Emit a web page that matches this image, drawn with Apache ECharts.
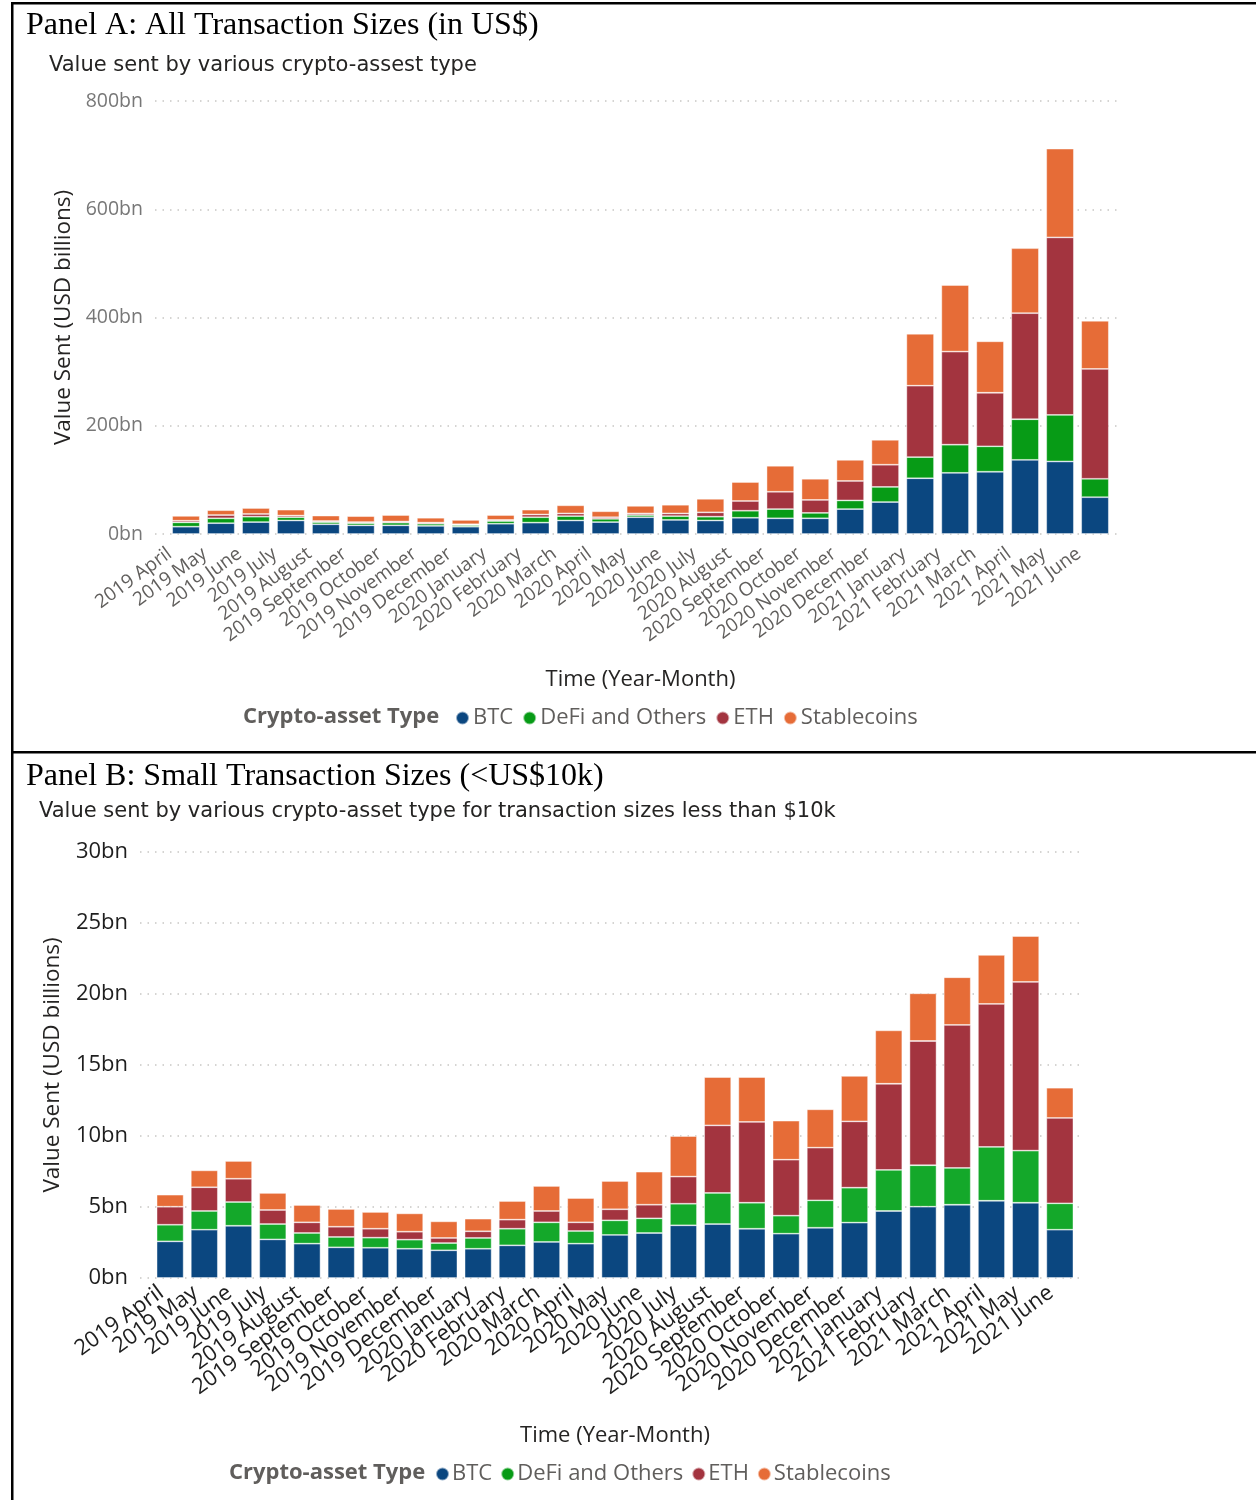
<!DOCTYPE html>
<html><head><meta charset="utf-8">
<script src="https://cdn.jsdelivr.net/npm/echarts@6/dist/echarts.min.js"></script>
<style>html,body{margin:0;padding:0;background:#fff}#c{width:1256px;height:1500px}</style>
</head><body><div id="c"></div>
<script>
const months = ['2019 April','2019 May','2019 June','2019 July','2019 August','2019 September','2019 October','2019 November','2019 December','2020 January','2020 February','2020 March','2020 April','2020 May','2020 June','2020 July','2020 August','2020 September','2020 October','2020 November','2020 December','2021 January','2021 February','2021 March','2021 April','2021 May','2021 June'];
const seriesNames = ['BTC','DeFi and Others','ETH','Stablecoins'];

// Panel A: all transaction sizes (USD billions)
const allBTC    = [13.5,20,22,25,18,16,16,15,13.5,19,21,25,22,31,26,25,30,29,29,46,59,103,113,115,137,134,68];
const allDeFi   = [8,9,10,6,4,4,5,4,3,5,10,8,6,4,7,7,13,17,10,16,28,39,52,47,75,86,34];
const allETH    = [3,6,5,3,2,2,2,2,1.5,2,5,5,3,3,5,8,18,32,24,36,41,132,172,99,196,328,203];
const allStable = [9,9,11,11,10,11,12,9,8,9,9,15,11,14,16,25,35,48,39,39,46,96,123,95,120,164,89];

// Panel B: small transactions < $10k (USD billions)
const smallBTC    = [2.58,3.40,3.68,2.72,2.42,2.16,2.13,2.06,1.95,2.06,2.30,2.54,2.42,3.03,3.17,3.71,3.80,3.47,3.12,3.54,3.90,4.72,5.02,5.16,5.44,5.30,3.40];
const smallDeFi   = [1.17,1.32,1.67,1.08,0.75,0.73,0.71,0.64,0.51,0.76,1.17,1.38,0.89,1.03,1.03,1.52,2.19,1.83,1.27,1.93,2.46,2.89,2.92,2.59,3.79,3.67,1.86];
const smallETH    = [1.27,1.67,1.64,0.99,0.75,0.72,0.63,0.56,0.36,0.47,0.64,0.80,0.61,0.78,0.96,1.91,4.76,5.69,3.94,3.71,4.67,6.07,8.75,10.07,10.07,11.88,6.01];
const smallStable = [0.85,1.19,1.25,1.20,1.22,1.25,1.18,1.29,1.17,0.89,1.31,1.76,1.71,1.99,2.33,2.86,3.40,3.16,2.75,2.70,3.20,3.76,3.36,3.36,3.45,3.23,2.13];

const colorsA = ['#0B4780','#079B16','#A3343F','#E66C37'];
const colorsB = ['#0B4780','#14A82A','#A3343F','#E66C37'];

const chart = echarts.init(document.getElementById('c'), null, {renderer:'canvas'});

function bars(name, data, color, xi, yi, stack){
  return {name, type:'bar', stack, xAxisIndex:xi, yAxisIndex:yi, data, barCategoryGap:'21%',
    itemStyle:{color, borderColor:'rgba(255,255,255,0.55)', borderWidth:0.8}, emphasis:{disabled:true}};
}
const gridLine = {show:true, lineStyle:{type:[1.5,6], color:'#C8C6C4', width:1.5}};
const F = 'Open Sans';

const option = {
  animation:false,
  textStyle:{fontFamily:F},
  grid:[
    {left:155, top:101, width:967, height:433},   // A axis grid
    {left:168.5, top:101, width:944, height:433}, // A bars
    {left:140, top:852, width:943, height:426},   // B axis grid
    {left:153, top:852, width:924, height:426}    // B bars
  ],
  xAxis:[
    {type:'value', gridIndex:0, min:0, max:1, show:false},
    {type:'category', gridIndex:1, data:months, axisLine:{show:false}, axisTick:{show:false},
      axisLabel:{rotate:36, interval:0, fontSize:19, color:'#605E5C', margin:6, padding:[0,20,0,0], fontFamily:F},
      name:'Time (Year-Month)', nameLocation:'middle', nameGap:135,
      nameTextStyle:{fontSize:22, color:'#252423', fontFamily:F}},
    {type:'value', gridIndex:2, min:0, max:1, show:false},
    {type:'category', gridIndex:3, data:months, axisLine:{show:false}, axisTick:{show:false},
      axisLabel:{rotate:36, interval:0, fontSize:22, color:'#1E1E1E', margin:6, padding:[0,11,0,0], fontFamily:F},
      name:'Time (Year-Month)', nameLocation:'middle', nameGap:147,
      nameTextStyle:{fontSize:22, color:'#252423', fontFamily:F}}
  ],
  yAxis:[
    {type:'value', gridIndex:0, min:0, max:800, interval:200, axisLine:{show:false}, axisTick:{show:false},
      axisLabel:{formatter:'{value}bn', fontSize:19.5, color:'#777777', margin:12, fontFamily:F},
      splitLine:gridLine,
      name:'Value Sent (USD billions)', nameLocation:'middle', nameRotate:90, nameGap:79,
      nameTextStyle:{fontSize:22.5, color:'#252423', fontFamily:F}},
    {type:'value', gridIndex:1, min:0, max:800, show:false},
    {type:'value', gridIndex:2, min:0, max:30, interval:5, axisLine:{show:false}, axisTick:{show:false},
      axisLabel:{formatter:'{value}bn', fontSize:22, color:'#1E1E1E', margin:12, fontFamily:F},
      splitLine:gridLine,
      name:'Value Sent (USD billions)', nameLocation:'middle', nameRotate:90, nameGap:76,
      nameTextStyle:{fontSize:22.5, color:'#252423', fontFamily:F}},
    {type:'value', gridIndex:3, min:0, max:30, show:false}
  ],
  legend:[
    {data:seriesNames, left:450, top:702, icon:'circle', itemWidth:13, itemHeight:13, itemGap:9,
      textStyle:{fontSize:22, color:'#605E5C', padding:[0,0,0,-1]}, selectedMode:false},
    {data:seriesNames, left:430, top:1458, icon:'circle', itemWidth:13, itemHeight:13, itemGap:8,
      textStyle:{fontSize:22, color:'#605E5C', padding:[0,0,0,-2]}, selectedMode:false}
  ],
  series:[
    bars('BTC', allBTC, colorsA[0], 1, 1, 'A'),
    bars('DeFi and Others', allDeFi, colorsA[1], 1, 1, 'A'),
    bars('ETH', allETH, colorsA[2], 1, 1, 'A'),
    bars('Stablecoins', allStable, colorsA[3], 1, 1, 'A'),
    bars('BTC', smallBTC, colorsB[0], 3, 3, 'B'),
    bars('DeFi and Others', smallDeFi, colorsB[1], 3, 3, 'B'),
    bars('ETH', smallETH, colorsB[2], 3, 3, 'B'),
    bars('Stablecoins', smallStable, colorsB[3], 3, 3, 'B')
  ],
  graphic:[
    {type:'rect', shape:{x:11, y:2, width:1245, height:2.5}, style:{fill:'#000'}},
    {type:'rect', shape:{x:11, y:2, width:2.5, height:1498}, style:{fill:'#000'}},
    {type:'rect', shape:{x:11, y:751, width:1245, height:2.5}, style:{fill:'#000'}},
    {type:'text', left:26, top:10, style:{text:'Panel A: All Transaction Sizes (in US$)', font:'32px "Liberation Serif"', fill:'#000'}},
    {type:'text', left:49, top:55, style:{text:'Value sent by various crypto-assest type', font:'21px "DejaVu Sans"', fill:'#252423'}},
    {type:'text', left:243, top:706, style:{text:'Crypto-asset Type', font:'bold 22px "Open Sans"', fill:'#605E5C'}},
    {type:'text', left:26, top:761, style:{text:'Panel B: Small Transaction Sizes (<US$10k)', font:'32px "Liberation Serif"', fill:'#000'}},
    {type:'text', left:39, top:801, style:{text:'Value sent by various crypto-asset type for transaction sizes less than $10k', font:'21px "DejaVu Sans"', fill:'#252423'}},
    {type:'text', left:229, top:1462, style:{text:'Crypto-asset Type', font:'bold 22px "Open Sans"', fill:'#605E5C'}}
  ]
};
chart.setOption(option);
</script></body></html>
